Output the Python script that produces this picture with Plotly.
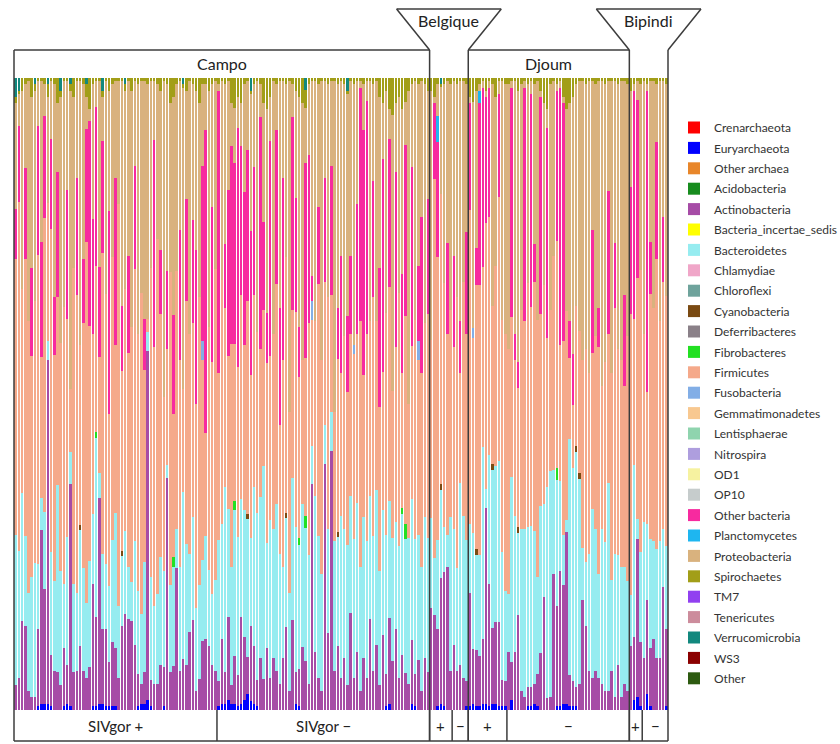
import plotly.graph_objects as go

# ---------------- groups ----------------
site_labels = ["Campo", "Belgique", "Djoum", "Bipindi"]
group_labels = ["SIVgor +", "SIVgor −", "+", "−", "+", "−", "+", "−"]
group_sizes = [63, 66, 7, 5, 12, 38, 4, 8]
N = sum(group_sizes)
samples = list(range(N))

phyla = ["Crenarchaeota", "Euryarchaeota", "Other archaea", "Acidobacteria",
         "Actinobacteria", "Bacteria_incertae_sedis", "Bacteroidetes", "Chlamydiae",
         "Chloroflexi", "Cyanobacteria", "Deferribacteres", "Fibrobacteres",
         "Firmicutes", "Fusobacteria", "Gemmatimonadetes", "Lentisphaerae",
         "Nitrospira", "OD1", "OP10", "Other bacteria", "Planctomycetes",
         "Proteobacteria", "Spirochaetes", "TM7", "Tenericutes",
         "Verrucomicrobia", "WS3", "Other"]
colors = ["#ff0000", "#0000ff", "#e8862a", "#178c1e",
          "#a64ca6", "#ffff00", "#96ecf0", "#f0a6c8",
          "#6fa39c", "#7a4a12", "#8a8088", "#22e022",
          "#f5a98a", "#82aee6", "#f8c890", "#8fd4ae",
          "#ae9ede", "#f6f2a0", "#c6cccc", "#f72a9f", "#1eb6f0",
          "#d9b27e", "#a29e18", "#9140f0", "#cc8c9c",
          "#12887e", "#8b0000", "#2d5a10"]

# ---------------- relative abundances (%) per sample ----------------
# sections: SIVgor+ | SIVgor- | Belgique + | Belgique - | Djoum + | Djoum - | Bipindi + | Bipindi -
euryarchaeota = (
    [0,0,0,0,0,0,0,.6,1,1, 1,.6,0,0,0,.6,1,.6,0,0, 0,0,0,0,.6,.6,1,1,.6,.6,
     .6,.6,0,0,0,0,0,0,.6,1, 1,1.5,.6,0,0,0,.6,0,0,0, 0,0,0,0,0,0,0,0,0,0, 0,0,0]
    + [.6,1,1,1.5,1,1,.6,1,1.5,2.5, 1.5,1,.6,0,0,0,0,0,0,0, 0,0,0,0,1,.6,0,0,0,0,
       0,0,0,0,0,0,0,0,0,0, 0,0,0,0,0,0,0,0,0,0, 0,0,.6,1,0,0,0,0,0,0, 1,.6,0,0,0,0]
    + [0,0,.6,1,.6,0,0] + [0,0,0,0,.6]
    + [.6,1,.6,.6,1,1,.6,1,1,.6,.6,.6]
    + [0,1.5,0,0,0,0,.6,.6,1,.6, 0,0,0,0,0,.6,.6,1,1,.6, .6,.6,0,0,0,0,0,0,0,0,
       0,0,0,0,0,0,0,0]
    + [0,1.5,2,.6] + [0,2.5,.6,0,0,0,0,.6]
)
actinobacteria = (
    [4,5,14,13,3,2,2,12,27,18, 55,8,6,6,4,9,6,35,6,6, 10,6,5,7,19,14,32,12,12,7,
     10,9,5,13,15,14,14,10,5,3, 5,55,4,4,4,7,6,36,6,7, 22,6,8,7,12,14,3,5,11,11,
     10,7,6]
    + [4,10,5,13,3,8,5,14,10,6, 12,9,4,8,5,10,5,8,6,4, 8,13,3,14,5,6,10,8,4,36,
       9,5,3,38,12,40,6,10,5,8, 4,15,5,9,3,8,5,14,6,10, 4,12,5,14,8,13,5,9,6,4,
       10,5,8,3,8,6]
    + [16,15,12,20,21,22,6] + [10,6,7,5,4]
    + [18,9,9,8,10,31,19,12,13,13,4,4]
    + [9,6,9,15,3,2,3,3,3,5, 9,18,2,2,21,16,21,19,28,5, 4,3,4,17,13,6,5,6,5,4,
       3,3,6,2,7,2,4,3]
    + [10,10,25,10] + [8,15,9,11,8,8,19,12]
)
bacteroidetes = (
    [24,20,20,14,15,19,21,10,5,12, 3,16,14,30,18,10,20,5,14,12, 18,16,12,17,11,28,4,12,10,12,
     16,21,11,11,13,8,6,16,13,11, 17,3,16,12,14,17,15,2,14,16, 6,16,26,19,12,16,13,15,13,16,
     12,11,14]
    + [22,18,29,17,19,24,22,19,20,22, 14,25,26,25,34,17,25,20,26,20, 14,17,15,22,23,20,23,22,20,6,
       24,22,18,6,16,6,20,17,25,20, 22,18,22,23,19,22,21,19,21,24, 18,20,22,19,20,17,21,23,22,23,
       22,21,20,19,22,21]
    + [14,9,14,14,7,5,24] + [18,16,28,25,22]
    + [11,19,15,16,30,3,20,25,25,25,20,14]
    + [9,29,21,13,25,26,25,25,24,15, 23,15,34,35,16,20,14,8,2,38, 34,37,32,8,10,18,26,22,16,24,
       23,32,14,22,17,20,18,17]
    + [8,27,3,14] + [21,12,17,15,17,18,9,13]
)
firmicutes = (
    [44,55,32,43,42,35,41,48,22,46, 22,50,35,30,36,43,34,10,50,46, 28,38,57,38,28,26,18,48,42,27,
     44,26,62,28,38,33,40,42,40,50, 30,2,48,40,55,38,27,18,50,23, 40,32,16,38,34,30,32,46,32,16,
     38,36,48]
    + [26,38,28,24,36,26,27,33,26,34, 26,30,28,23,25,29,26,30,34,20, 32,40,28,26,34,26,23,26,36,20,
       27,39,33,22,36,18,20,27,22,30, 24,25,29,26,38,22,32,27,37,26, 26,22,35,35,24,28,40,22,34,21,
       24,34,28,30,30,35]
    + [28,60,44,46,38,31,32] + [28,42,17,36,32]
    + [50,32,42,43,28,42,37,25,32,41,36,40]
    + [38,25,24,22,34,32,38,34,39,40, 30,35,24,25,33,36,21,31,34,13, 10,22,22,29,33,28,24,30,35,22,
       28,23,32,38,32,32,28,38]
    + [44,23,38,44] + [29,21,38,36,45,34,38,39]
)
other_bacteria = (
    [8,12,0,14,0,14,0,20,18,16, 0,14,9,20,0,0,20,0,0,18, 0,10,18,33,18,25,14,18,0,32,
     0,26,0,10,0,15,0,16,0,0, 8,0,0,32,0,10,0,12,0,16, 0,20,0,16,0,16,24,0,28,47,
     0,24,0]
    + [44,0,10,26,32,30,38,24,24,24, 23,20,0,36,14,8,34,0,24,18, 28,0,0,30,18,8,0,32,26,4,
       0,12,0,16,0,20,0,8,18,0, 12,12,0,20,36,38,36,0,18,0, 22,34,0,24,0,28,0,16,28,0,
       28,0,12,24,0,18]
    + [0,12,18,0,0,14,0] + [14,0,8,0,16]
    + [17,0,6,29,28,20,20,0,0,16,0,0]
    + [0,36,4,4,0,36,0,33,6,0, 34,0,34,0,0,24,40,38,0,6, 8,0,0,0,0,0,19,0,6,0,
       0,22,0,10,0,0,14,0]
    + [20,36,28,0] + [0,48,8,0,18,0,10,0]
)
proteobacteria = (
    [17,5,31,13,37,27,33,7,25,5, 17,9,33,11,39,35,17,47,27,15, 41,27,5,2,21,4,29,7,33,19,
     27,15,19,35,31,27,37,13,39,33, 37,37,29,9,24,25,49,29,27,35, 29,23,47,17,39,21,25,31,13,7,
     37,19,29]
    + [1,31,25,17,7,9,5,7,17,11, 22,13,39,5,19,33,7,39,7,35, 15,27,51,5,17,37,41,9,11,31,
       37,19,43,15,33,13,51,35,27,39, 35,27,41,19,1,7,3,37,15,37, 27,9,35,5,45,11,31,27,7,49,
       13,37,29,21,37,17]
    + [39,1,5,17,31,25,35] + [27,33,37,31,23]
    + [1,37,25,1,1,1,1,35,27,2,37,39]
    + [41,1,39,43,35,1,31,2,25,37, 1,29,3,35,27,1,1,1,33,35, 41,35,39,43,41,45,23,39,35,47,
       43,17,45,25,41,43,33,39]
    + [15,1,3,29] + [39,1,25,35,9,37,21,33]
)
spirochaetes = (
    [1,.5,2,1,.5,3,1,.5,.5,1, 2,.5,1,4,1,.5,.5,1,3,.5, .5,1,2,5,1,.5,.5,1,.5,2,
     1,.5,.5,.5,1,.5,2,.5,1,.5, .5,1,.5,.5,1,2,.5,1,4,3, 1,.5,.5,2,.5,1,2,4,1,1, 2,1,.5]
    + [1,.5,1,.5,4,5,3,4,1,.5, .5,1,.5,1,4,5,3,.5,1,.5, .5,1,.5,1,2,3,4,3,1,.5,
       .5,1,.5,.5,1,.5,.5,1,.5,1, .5,.5,1,.5,.5,1,.5,.5,1,.5, 3,4,2,5,6,4,3,5,4,2, 1,.5,1,.5,1,2]
    + [2,3,1,.5,1,.5,1] + [.5,1,.5,.5,1]
    + [3,4,2,1,.5,2,.5,1,3,.5,.5,1]
    + [1,.5,.5,2,1,.5,1,.5,1,.5, 2,4,5,1,.5,1,.5,3,5,4, 3,1,.5,.5,1,.5,.5,1,.5,.5,
       1,.5,.5,.5,1,.5,.5,1]
    + [2,1,.5,1] + [.5,1,.5,.5,1,.5,.5,1]
)
verrucomicrobia = (
    [3,2,0,0,0,0,1,0,0,0, 1,0,0,0,2,0,0,1,0,0, 0,0,1,0,0,0,0,2,0,0, 0,0,0,0,1,0,0,0,0,0,
     0,0,0,0,0,0,0,0,0,0, 0,0,1,0,0,0,0,0,0,0, 0,0,0]
    + [0,0,0,0,0,0,0,0,0,0, 2,0,0,0,0,0,0,0,0,0, 0,0,0,0,0,0,0,2,0,0, 0,0,0,0,0,0,0,0,0,0,
       2,0,0,0,0,0,0,0,0,0, 0,0,0,0,0,0,0,0,0,0, 0,0,0,0,0,0]
    + [0,0,0,1,0,0,0] + [0,0,0,0,0]
    + [0,0,0,0,0,0,0,0,0,0,0,0]
    + [0,0,0,0,0,0,0,0,0,0, 0,0,0,0,0,0,0,0,0,0, 0,0,0,0,0,0,0,0,0,0, 0,0,0,0,0,0,0,0]
    + [0,0,0,0] + [0,0,0,0,0,0,0,0]
)

# sparse minor phyla: sample index -> %
cyano_idx = [20, 33, 72, 84, 100, 132, 143, 148, 156, 174, 175]
cyano_val = [0.8, 0.8, 0.8, 0.8, 0.8, 1, 1, 1, 1, 1, 1]
fibro_idx = [25, 49, 68, 88, 90, 120, 121, 168]
fibro_val = [1, 1.5, 1.5, 1, 2, 1, 2.5, 2]
fuso_idx = [58, 92, 105, 125, 142]
fuso_val = [3, 3, 1.5, 3, 1.5]
plancto_idx = [131, 144]
plancto_val = [4, 2]

dense = {
    "Euryarchaeota": euryarchaeota, "Actinobacteria": actinobacteria,
    "Bacteroidetes": bacteroidetes, "Firmicutes": firmicutes,
    "Other bacteria": other_bacteria, "Proteobacteria": proteobacteria,
    "Spirochaetes": spirochaetes, "Verrucomicrobia": verrucomicrobia,
}
sparse = {
    "Cyanobacteria": (cyano_idx, cyano_val), "Fibrobacteres": (fibro_idx, fibro_val),
    "Fusobacteria": (fuso_idx, fuso_val), "Planctomycetes": (plancto_idx, plancto_val),
}
for k, v in dense.items():
    assert len(v) == N, (k, len(v))

fig = go.Figure()
for name, col in zip(phyla, colors):
    if name in dense:
        xs, ys = samples, dense[name]
    elif name in sparse:
        xs, ys = sparse[name]
    else:
        xs, ys = [0], [0]
    fig.add_trace(go.Bar(x=xs, y=ys, name=name, legendgroup=name,
                         marker=dict(color=col, line=dict(width=0))))

# ---------------- frame: header boxes, funnels, footer ----------------
xmin, xmax = -0.5, N - 0.5
def xp(d):
    return (d - xmin) / (xmax - xmin)

PT, PB = 78, 710            # plot top / bottom in px
H = PB - PT
def yp(px):
    return (PB - px) / H

box_top = yp(50)
fun_top = yp(9)
foot_bot = yp(741)
flare = 33 / 654

cum = []
s = 0
for g in group_sizes:
    s += g
    cum.append(s)
site_edges = [xmin, cum[1] - 0.5, cum[3] - 0.5, cum[5] - 0.5, cum[7] - 0.5]
group_edges = [xmin] + [c - 0.5 for c in cum]

LC = "#3c3c3c"
LW = 1.5
shapes = []
def line(x0, y0, x1, y1):
    shapes.append(dict(type="line", xref="paper", yref="paper", x0=x0, y0=y0,
                       x1=x1, y1=y1, line=dict(color=LC, width=LW), layer="above"))

for e in site_edges:
    line(xp(e), foot_bot, xp(e), box_top)
line(xp(site_edges[0]), box_top, xp(site_edges[1]), box_top)
line(xp(site_edges[2]), box_top, xp(site_edges[3]), box_top)
for a, b in [(site_edges[1], site_edges[2]), (site_edges[3], site_edges[4])]:
    xa, xb = xp(a), xp(b)
    line(xa, box_top, xa - flare, fun_top)
    line(xb, box_top, xb + flare, fun_top)
    line(xa - flare, fun_top, xb + flare, fun_top)
line(0, foot_bot, 1, foot_bot)
for e in group_edges[1:-1]:
    line(xp(e), foot_bot, xp(e), 0)

FONT = "Lato, 'Open Sans', sans-serif"
ann = []
for i, lab in enumerate(site_labels):
    xc = xp((site_edges[i] + site_edges[i + 1]) / 2)
    yc = yp(63) if i in (0, 2) else yp(21)
    ann.append(dict(text=lab, x=xc, y=yc, xref="paper", yref="paper", showarrow=False,
                    xanchor="center", yanchor="middle",
                    font=dict(family=FONT, size=16, color="#222")))
for i, lab in enumerate(group_labels):
    xc = xp((group_edges[i] + group_edges[i + 1]) / 2)
    ann.append(dict(text=lab, x=xc, y=yp(726), xref="paper", yref="paper", showarrow=False,
                    xanchor="center", yanchor="middle",
                    font=dict(family=FONT, size=15, color="#222")))

fig.update_layout(
    width=840, height=744,
    barmode="stack", barnorm="percent", bargap=0.22,
    plot_bgcolor="white", paper_bgcolor="white",
    margin=dict(l=14, r=172, t=PT, b=744 - PB, autoexpand=False),
    xaxis=dict(visible=False, range=[xmin, xmax]),
    yaxis=dict(visible=False, range=[0, 100]),
    shapes=shapes, annotations=ann,
    showlegend=True,
    legend=dict(x=(674 - 14) / 654, xanchor="left", y=yp(113), yanchor="top",
                traceorder="grouped", tracegroupgap=1.4,
                font=dict(family=FONT, size=12, color="#333"),
                bgcolor="rgba(0,0,0,0)"),
)

fig.write_html("out.html")
